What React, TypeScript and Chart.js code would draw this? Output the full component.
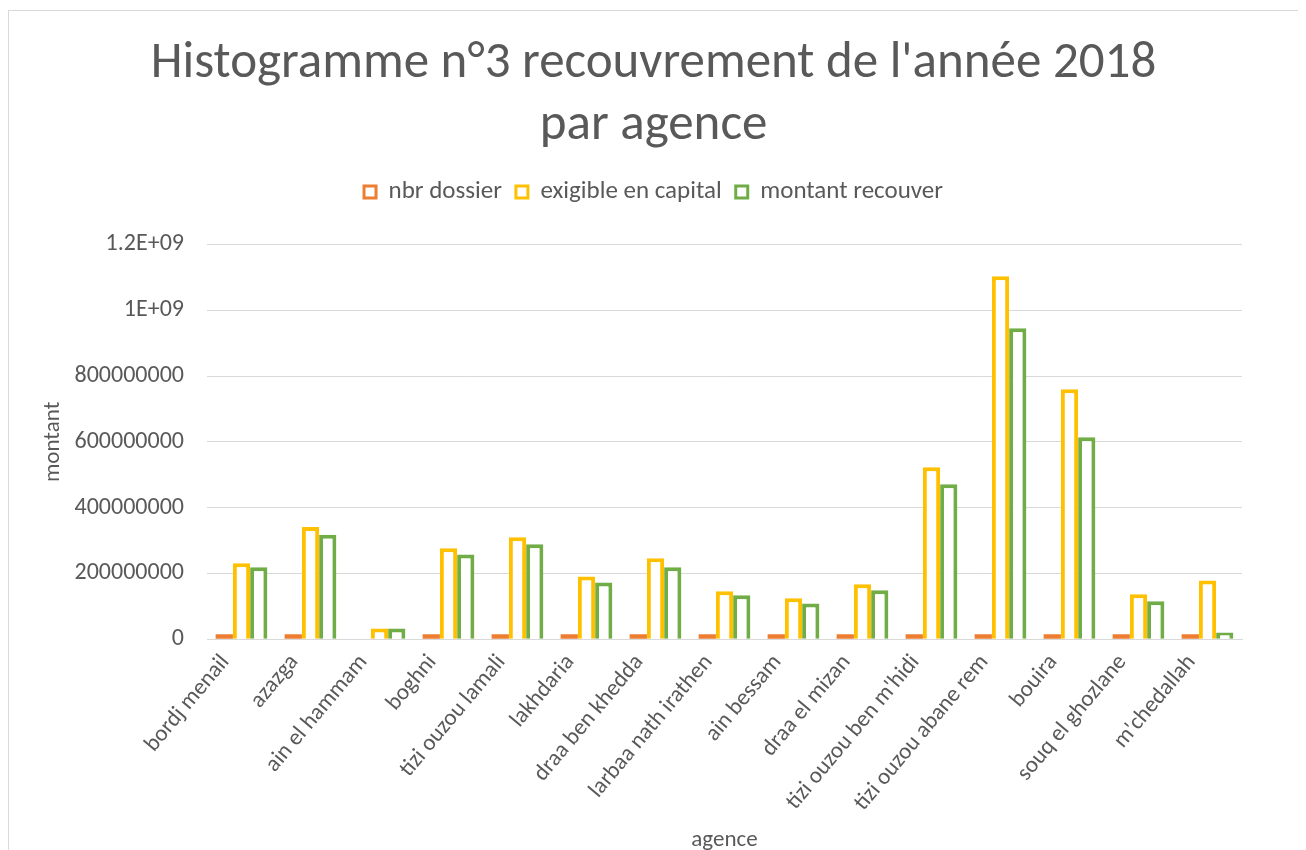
import React, { useEffect, useRef } from "react";
import { Chart, registerables } from "chart.js";

Chart.register(...registerables);

const agences = [
  "bordj menail",
  "azazga",
  "ain el hammam",
  "boghni",
  "tizi ouzou lamali",
  "lakhdaria",
  "draa ben khedda",
  "larbaa nath irathen",
  "ain bessam",
  "draa el mizan",
  "tizi ouzou ben m'hidi",
  "tizi ouzou abane rem",
  "bouira",
  "souq el ghozlane",
  "m'chedallah",
];

const nbrDossier: (number | null)[] = [420, 510, null, 380, 460, 300, 350, 260, 240, 290, 610, 980, 720, 230, 270];
const exigibleCapital = [231e6, 341e6, 33e6, 277e6, 310e6, 191e6, 246e6, 146e6, 125e6, 167e6, 523e6, 1103e6, 760e6, 137e6, 179e6];
const montantRecouvre = [219e6, 318e6, 33e6, 258e6, 289e6, 173e6, 219e6, 134e6, 109e6, 149e6, 471e6, 945e6, 614e6, 116e6, 21e6];

const seriesNames = ["nbr dossier", "exigible en capital", "montant recouver"];
const seriesColors = ["#ED7D31", "#FFC000", "#70AD47"];

const FONT = "Carlito, Calibri, Lato, 'Open Sans', sans-serif";
const TEXT = "#595959";
const FS = 23;

function fmtTick(v: number): string {
  if (v === 0) return "0";
  if (v >= 1e9) {
    const m = v / 1e9;
    return (Math.round(m * 10) / 10).toString() + "E+09";
  }
  return String(v);
}

const legendMargin = {
  id: "legendMargin",
  beforeInit(chart: any) {
    const lg = chart.legend;
    if (!lg) return;
    const orig = lg.fit;
    lg.fit = function () {
      orig.call(this);
      this.height += 30;
    };
  },
};

export default function App() {
  const ref = useRef<HTMLCanvasElement | null>(null);
  useEffect(() => {
    if (!ref.current) return;
    const chart = new Chart(ref.current, {
      type: "bar",
      data: {
        labels: agences,
        datasets: [
          {
            label: seriesNames[0],
            data: nbrDossier,
            backgroundColor: seriesColors[0],
            borderColor: seriesColors[0],
            borderWidth: 0,
            minBarLength: 5,
            categoryPercentage: 0.75,
            barPercentage: 1,
          },
          {
            label: seriesNames[1],
            data: exigibleCapital,
            backgroundColor: "#ffffff",
            borderColor: seriesColors[1],
            borderWidth: 4,
            categoryPercentage: 0.75,
            barPercentage: 1,
          },
          {
            label: seriesNames[2],
            data: montantRecouvre,
            backgroundColor: "#ffffff",
            borderColor: seriesColors[2],
            borderWidth: 4,
            categoryPercentage: 0.75,
            barPercentage: 1,
          },
        ],
      },
      plugins: [legendMargin],
      options: {
        animation: false,
        responsive: false,
        layout: { autoPadding: false, padding: { left: 30, right: 30, top: 23, bottom: 37 } },
        plugins: {
          title: {
            display: true,
            text: ["Histogramme n°3 recouvrement de l'année 2018", "par agence"],
            color: TEXT,
            font: { family: FONT, size: 51, weight: "normal" },
            padding: { top: 0, bottom: 9 },
            lineHeight: 1.2,
          },
          legend: {
            position: "top",
            labels: {
              color: TEXT,
              font: { family: FONT, size: 25 },
              boxWidth: 12,
              boxHeight: 12,
              padding: 14,
              generateLabels: (c: any) =>
                c.data.datasets.map((ds: any, i: number) => ({
                  text: ds.label,
                  fillStyle: "#ffffff",
                  strokeStyle: seriesColors[i],
                  lineWidth: 3,
                  fontColor: TEXT,
                  datasetIndex: i,
                  hidden: false,
                })),
            },
          },
          tooltip: { enabled: false },
        },
        scales: {
          x: {
            grid: { display: false, drawTicks: false },
            border: { display: true, color: "#D9D9D9", width: 1 },
            ticks: {
              color: TEXT,
              font: { family: FONT, size: FS },
              maxRotation: 50,
              minRotation: 50,
              padding: 10,
              labelOffset: -16,
              autoSkip: false,
            },
            title: {
              display: true,
              text: "agence",
              color: TEXT,
              font: { family: FONT, size: FS },
              padding: { top: 0, bottom: 0 },
            },
          },
          y: {
            min: 0,
            max: 1.2e9,
            grid: { color: "#D9D9D9", lineWidth: 1, drawTicks: false },
            border: { display: false },
            ticks: {
              stepSize: 2e8,
              color: TEXT,
              font: { family: FONT, size: 24 },
              padding: 23,
              callback: (v: any) => fmtTick(Number(v)),
            },
            title: {
              display: true,
              text: "montant",
              color: TEXT,
              font: { family: FONT, size: FS },
              padding: { top: 0, bottom: 4 },
            },
            afterFit: (s: any) => {
              s.width = 168;
            },
          },
          yRight: {
            position: "right",
            display: true,
            grid: { display: false, drawTicks: false },
            border: { display: false },
            ticks: { display: false },
            afterFit: (s: any) => {
              s.width = 26;
            },
          },
        },
      },
    });
    return () => chart.destroy();
  }, []);

  return (
    <div
      style={{
        border: "1px solid #D9D9D9",
        width: 1289,
        height: 880,
        marginTop: 2,
        background: "#fff",
        fontFamily: FONT,
      }}
    >
      <canvas ref={ref} width={1289} height={880} style={{ display: "block" }} />
    </div>
  );
}
